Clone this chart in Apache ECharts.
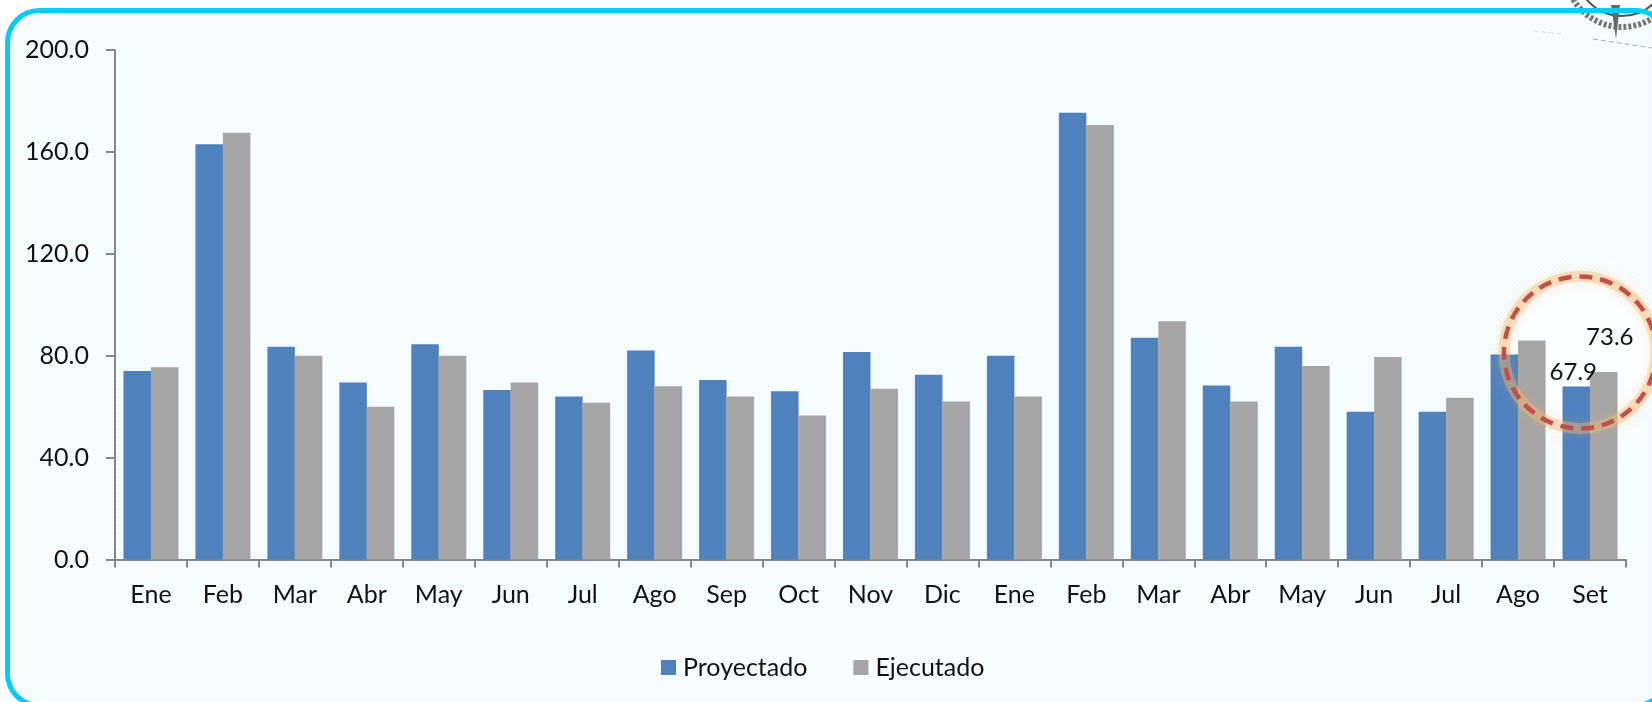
<!DOCTYPE html>
<html>
<head>
<meta charset="utf-8">
<style>html,body{margin:0;padding:0;background:#fff;overflow:hidden}#c{width:1652px;height:702px}</style>
<script src="https://cdn.jsdelivr.net/npm/echarts@6/dist/echarts.min.js"></script>
</head>
<body>
<div id="c"></div>
<script>
const categories = ['Ene','Feb','Mar','Abr','May','Jun','Jul','Ago','Sep','Oct','Nov','Dic','Ene','Feb','Mar','Abr','May','Jun','Jul','Ago','Set'];
const proyectado = [74,163,83.5,69.5,84.5,66.5,64,82,70.5,66,81.5,72.5,80,175.4,87,68.3,83.5,58,58,80.5,67.9];
const ejecutado = [75.5,167.5,80,60,80,69.5,61.5,68,64,56.5,67,62,64,170.6,93.5,62,76,79.5,63.5,86,73.6];
const yTicks = {min:0,max:200,interval:40};

const FONT = 'Lato';
const pat = document.createElement('canvas');
pat.width = 4; pat.height = 4;
const g = pat.getContext('2d');
g.fillStyle = '#fafdfe'; g.fillRect(0,0,4,4);
g.fillStyle = '#e6f5f8'; g.fillRect(0,0,1,1); g.fillRect(2,2,1,1);

function lastLabel(arr, offset){
  return arr.map((v,i)=> i===arr.length-1
    ? {value:v,label:{show:true,position:'top',offset:offset,formatter:'{c}',fontFamily:FONT,fontSize:24,color:'#111'}}
    : v);
}
const chart = echarts.init(document.getElementById('c'),null,{renderer:'canvas'});
chart.setOption({
  animation:false,
  backgroundColor:'#fff',
  grid:{left:115,top:50,width:1511,height:509.5,containLabel:false},
  legend:{
    left:656,top:650,itemWidth:15,itemHeight:15,itemGap:46,icon:'rect',
    textStyle:{fontFamily:FONT,fontSize:25,color:'#111',padding:[0,0,0,2]},
    data:['Proyectado','Ejecutado']
  },
  xAxis:{
    type:'category',data:categories,
    axisLine:{lineStyle:{color:'#868686',width:2}},
    axisTick:{show:true,alignWithLabel:false,length:8,lineStyle:{color:'#868686',width:2}},
    axisLabel:{fontFamily:FONT,fontSize:25,color:'#111',margin:23,interval:0}
  },
  yAxis:{
    type:'value',min:yTicks.min,max:yTicks.max,interval:yTicks.interval,
    axisLine:{show:true,lineStyle:{color:'#868686',width:2}},
    axisTick:{show:true,length:9,lineStyle:{color:'#868686',width:2}},
    splitLine:{show:false},
    axisLabel:{fontFamily:FONT,fontSize:25,color:'#111',margin:26,formatter:v=>v.toFixed(1)}
  },
  series:[
    {name:'Proyectado',type:'bar',barWidth:27.5,barGap:0,data:lastLabel(proyectado,[-3,3]),itemStyle:{color:'#4f81bd'}},
    {name:'Ejecutado',type:'bar',barWidth:27.5,barGap:0,data:lastLabel(ejecutado,[6,-18]),itemStyle:{color:'#a5a5a5'}}
  ],
  graphic:{elements:[
    {type:'rect',z:-10,shape:{x:8,y:11,width:1660,height:710,r:32},style:{fill:{image:pat,repeat:'repeat'}}},
    {type:'circle',z:-5,shape:{cx:1580,cy:352.5,r:76},style:{fill:'#fcfdff'}},
    // seal at the top-right corner
    {type:'circle',z:1,shape:{cx:1622,cy:-30,r:57},style:{fill:'none',stroke:'#777',lineWidth:6,lineDash:[3,2]}},
    {type:'circle',z:1,shape:{cx:1622,cy:-30,r:46},style:{fill:'none',stroke:'#555',lineWidth:2}},
    {type:'polygon',z:1,shape:{points:[[1611,5],[1620,5],[1616,39]]},style:{fill:'#666'}},
    {type:'line',z:1,shape:{x1:1593,y1:39,x2:1652,y2:48},style:{stroke:'#aaa',lineWidth:1,lineDash:[5,3]}},
    {type:'line',z:1,shape:{x1:1533,y1:31,x2:1562,y2:34},style:{stroke:'#ddd',lineWidth:1,lineDash:[5,3]}},
    // frame
    {type:'rect',z:5,shape:{x:7.5,y:10.5,width:1660,height:695,r:32},style:{fill:'none',stroke:'#00ccff',lineWidth:5}},
    // highlight ring
    {type:'circle',z:6,shape:{cx:1580,cy:352.5,r:76},style:{fill:'none',stroke:'rgba(248,185,110,0.4)',lineWidth:11,shadowBlur:12,shadowColor:'rgba(248,185,110,0.6)'}},
    {type:'circle',z:7,shape:{cx:1580,cy:352.5,r:76},style:{fill:'none',stroke:'#c0504d',lineWidth:4.5,lineDash:[13,8]}}
  ]}
});
</script>
</body>
</html>
